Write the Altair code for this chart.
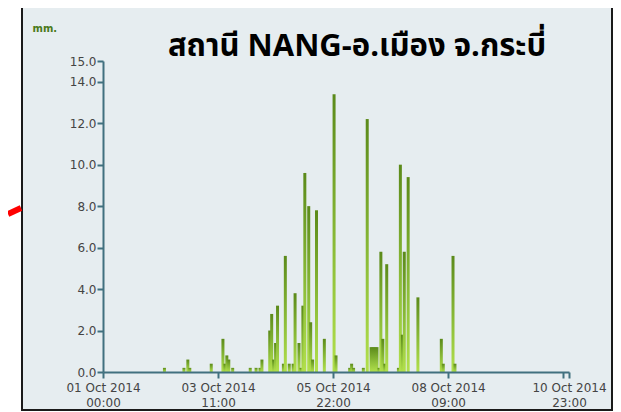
import altair as alt
import pandas as pd

# Hourly rainfall (mm)
times = [
    "2014-10-02 07:00", "2014-10-02 17:00", "2014-10-02 19:00", "2014-10-02 20:00",
    "2014-10-03 07:00", "2014-10-03 13:00", "2014-10-03 14:00", "2014-10-03 15:00",
    "2014-10-03 16:00", "2014-10-03 18:00",
    "2014-10-04 03:00", "2014-10-04 06:00", "2014-10-04 08:00", "2014-10-04 09:00",
    "2014-10-04 13:00", "2014-10-04 14:00", "2014-10-04 15:00", "2014-10-04 16:00",
    "2014-10-04 17:00", "2014-10-04 20:00", "2014-10-04 21:00", "2014-10-04 23:00",
    "2014-10-05 01:00", "2014-10-05 02:00", "2014-10-05 04:00", "2014-10-05 05:00",
    "2014-10-05 06:00", "2014-10-05 07:00", "2014-10-05 09:00", "2014-10-05 10:00",
    "2014-10-05 11:00", "2014-10-05 13:00", "2014-10-05 17:00", "2014-10-05 22:00",
    "2014-10-05 23:00",
    "2014-10-06 06:00", "2014-10-06 07:00", "2014-10-06 08:00", "2014-10-06 13:00",
    "2014-10-06 15:00", "2014-10-06 17:00", "2014-10-06 18:00", "2014-10-06 19:00",
    "2014-10-06 20:00", "2014-10-06 21:00", "2014-10-06 22:00", "2014-10-06 23:00",
    "2014-10-07 00:00", "2014-10-07 01:00", "2014-10-07 07:00", "2014-10-07 08:00",
    "2014-10-07 09:00", "2014-10-07 10:00", "2014-10-07 12:00", "2014-10-07 17:00",
    "2014-10-08 05:00", "2014-10-08 06:00", "2014-10-08 11:00", "2014-10-08 12:00",
]
rain = [
    0.2, 0.2, 0.6, 0.2,
    0.4, 1.6, 0.4, 0.8,
    0.6, 0.2,
    0.2, 0.2, 0.2, 0.6,
    2.0, 2.8, 0.6, 1.4,
    3.2, 0.4, 5.6, 0.4,
    0.4, 3.8, 1.4, 0.2,
    3.2, 9.6, 8.0, 2.4,
    0.6, 7.8, 1.6, 13.4,
    0.8,
    0.2, 0.4, 0.2, 0.2,
    12.2, 1.2, 1.2, 1.2,
    1.2, 0.2, 5.8, 1.6,
    0.4, 5.2, 0.2, 10.0,
    1.8, 5.8, 9.4, 3.6,
    1.6, 0.4, 5.6, 0.4,
]
y_ticks = [0, 2, 4, 6, 8, 10, 12, 14, 15]
x_tick_hours = [(1, 0), (3, 11), (5, 22), (8, 9), (10, 20), (10, 23)]
title_text = "สถานี NANG-อ.เมือง จ.กระบี่"

df = pd.DataFrame({"time": [t.replace(" ", "T") + ":00Z" for t in times], "rain": rain})
one = pd.DataFrame({"k": [0]})

W, H = 466, 311

x_vals = [alt.DateTime(year=2014, month=10, date=d, hours=h, utc=True) for d, h in x_tick_hours]

grad = alt.Gradient(
    gradient="linear",
    stops=[alt.GradientStop(color="#5b8a1a", offset=0),
           alt.GradientStop(color="#8fc03a", offset=0.6),
           alt.GradientStop(color="#b2e04c", offset=1)],
    x1=0, x2=0, y1=0, y2=1,
)

frame = alt.Chart(one).mark_rect(fill="#e6edf0", stroke="#1a1a1a", strokeWidth=2).encode(
    x=alt.value(-81), x2=alt.value(509), y=alt.value(-56), y2=alt.value(349)
)

arrow = alt.Chart(one).mark_rule(color="#ff0000", strokeWidth=6).encode(
    x=alt.value(-95), x2=alt.value(-82), y=alt.value(153), y2=alt.value(147)
)

title = alt.Chart(one).mark_text(
    text=title_text, fontSize=31, fontWeight="bold", align="center",
    baseline="alphabetic", color="#000000",
    font="Tahoma, 'Noto Sans Thai', 'Leelawadee UI', sans-serif",
).encode(x=alt.value(254), y=alt.value(-5))

bars = alt.Chart(df).mark_bar(size=3, xOffset=1, color=grad).encode(
    x=alt.X(
        "time:T",
        scale=alt.Scale(
            type="utc",
            domain=[alt.DateTime(year=2014, month=10, date=1, hours=0, utc=True),
                    alt.DateTime(year=2014, month=10, date=10, hours=23, utc=True)],
            nice=False, padding=0,
        ),
        axis=alt.Axis(
            values=x_vals,
            labelExpr="utcFormat(datum.value, '%H') == '20' ? '' : [utcFormat(datum.value, '%d %b %Y'), utcFormat(datum.value, '%H:%M')]",
            title=None, grid=False, labelOverlap=False, labelFlush=False,
            domainColor="#41707f", domainWidth=2, tickColor="#41707f", tickWidth=2,
            tickSize=6, labelPadding=4, labelColor="#444444", labelFontSize=12,
            labelLineHeight=15, labelFont="DejaVu Sans", zindex=1,
        ),
    ),
    y=alt.Y(
        "rain:Q",
        scale=alt.Scale(domain=[0, 15], nice=False, padding=0),
        axis=alt.Axis(
            values=y_ticks, format=".1f", title="mm.", titleAngle=0,
            titleX=-71, titleY=-28, titleAlign="left", titleBaseline="bottom",
            titleColor="#4a7a1a", titleFontSize=10, titleFontWeight="bold",
            titleFont="DejaVu Sans",
            domainColor="#41707f", domainWidth=2, tickColor="#41707f", tickWidth=2,
            tickSize=6, labelPadding=1, labelColor="#444444", labelFontSize=12,
            labelFont="DejaVu Sans", grid=False, labelOverlap=False, zindex=1,
        ),
    ),
)

chart = alt.layer(frame, arrow, title, bars).properties(
    width=W, height=H,
    autosize=alt.AutoSizeParams(type="none"),
    padding={"left": 95, "top": 53, "right": 44, "bottom": 40},
    background="white",
).configure_view(stroke=None, fill=None)

chart.save("out.html", embed_options={"renderer": "svg", "actions": False})
